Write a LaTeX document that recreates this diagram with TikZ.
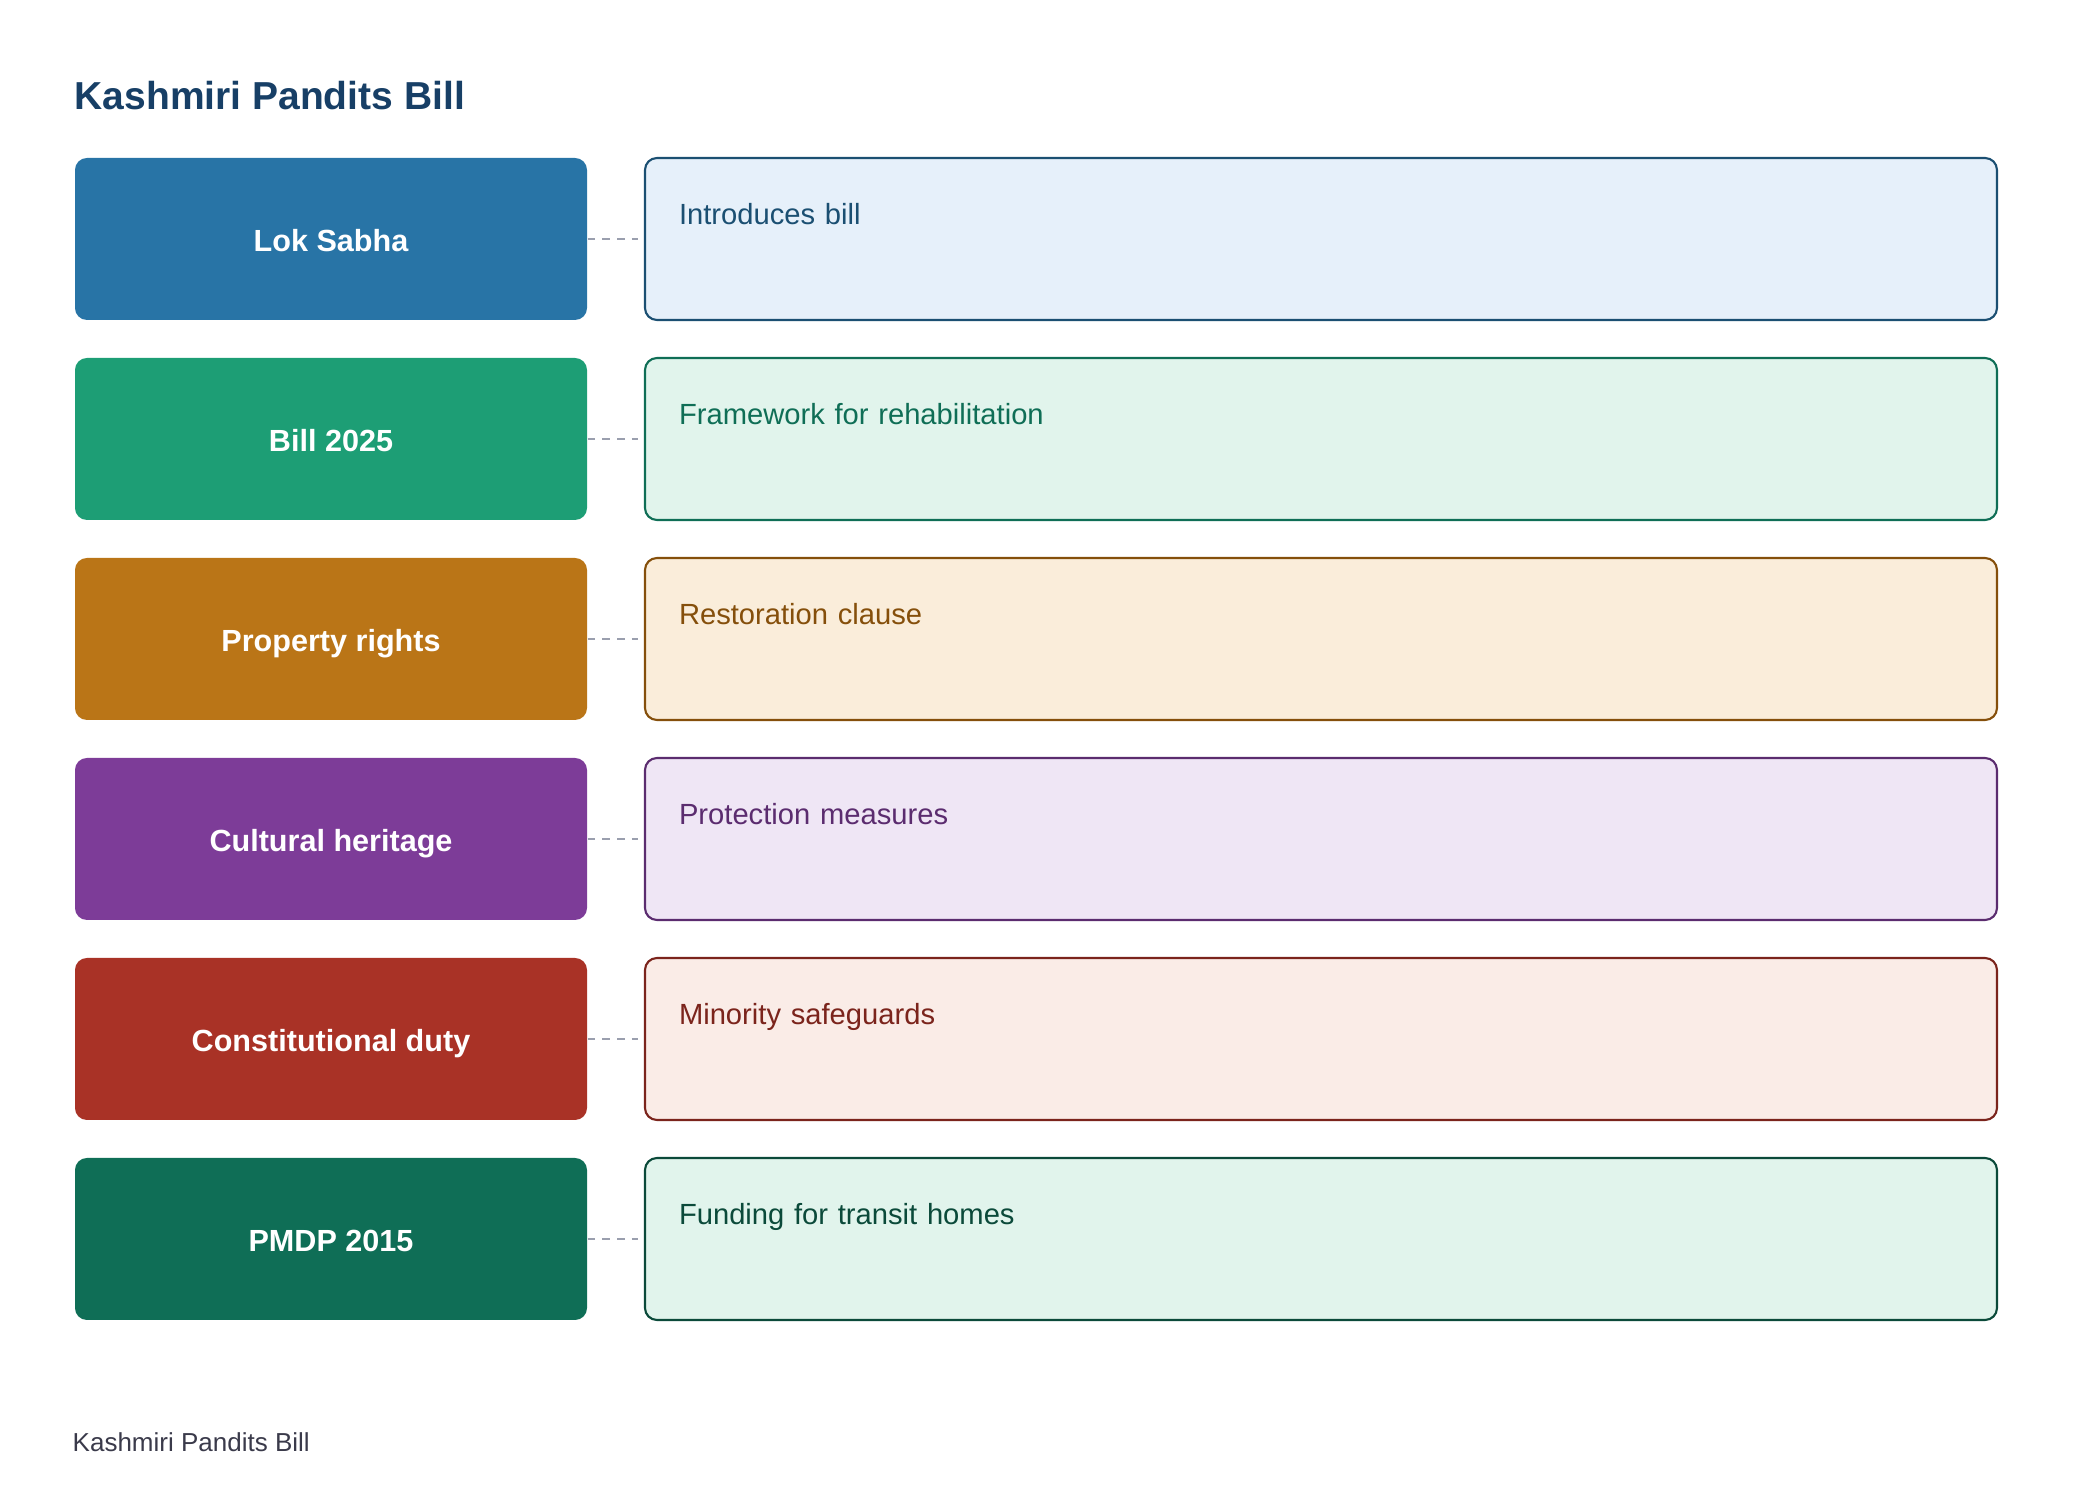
\documentclass[tikz,border=0pt]{standalone}
\usepackage{fontspec}
\setmainfont{Liberation Sans}
\usetikzlibrary{positioning}

\definecolor{titleblue}{HTML}{173F66}
\definecolor{footgray}{HTML}{3A3A4A}
\definecolor{linkgray}{HTML}{9A9FAE}
\definecolor{lokfill}{HTML}{2874A6}
\definecolor{lokpale}{HTML}{E6F0FA}
\definecolor{lokdark}{HTML}{1B4F72}
\definecolor{billfill}{HTML}{1D9E75}
\definecolor{billpale}{HTML}{E1F4EC}
\definecolor{billdark}{HTML}{0F6E56}
\definecolor{propfill}{HTML}{BA7517}
\definecolor{proppale}{HTML}{FAEDDA}
\definecolor{propdark}{HTML}{854F0B}
\definecolor{cultfill}{HTML}{7D3C98}
\definecolor{cultpale}{HTML}{EFE6F5}
\definecolor{cultdark}{HTML}{5B2C6F}
\definecolor{constfill}{HTML}{A93226}
\definecolor{constpale}{HTML}{FAECE7}
\definecolor{constdark}{HTML}{7B241C}
\definecolor{pmdpfill}{HTML}{0F6E56}
\definecolor{pmdppale}{HTML}{E1F4EC}
\definecolor{pmdpdark}{HTML}{0B4A3A}

\begin{document}
\begin{tikzpicture}[node distance=2cm, on grid]
    \tikzstyle{topic} = [rectangle, rounded corners=3.4pt, minimum width=5.12cm,
                         minimum height=1.62cm, text=white, text height=7.2pt, text depth=0pt,
                         font=\bfseries\fontsize{8.7}{10}\selectfont]
    \tikzstyle{detail} = [rectangle, rounded corners=3.4pt, line width=0.6pt,
                          minimum width=13.52cm, minimum height=1.62cm, text width=12.84cm,
                          inner xsep=0.34cm, inner ysep=0pt, text height=0.67cm, text depth=0.95cm,
                          align=left, font=\fontsize{8.3}{10}\selectfont]
    \tikzstyle{link} = [draw=linkgray, line width=0.8pt, dash pattern=on 0.075cm off 0.072cm,
                        shorten >=0.055cm]

    \useasboundingbox (0,0) rectangle (20.8,-15.08);

    \node (title) [anchor=base west, inner sep=0pt, text=titleblue,
                   font=\bfseries\fontsize{11.1}{13}\selectfont] at (0.74,-1.10) {Kashmiri Pandits Bill};

    \node (lok)   [topic, fill=lokfill] at (3.31,-2.39) {Lok Sabha};
    \node (bill)  [topic, fill=billfill, below=of lok] {Bill 2025};
    \node (prop)  [topic, fill=propfill, below=of bill] {Property rights};
    \node (cult)  [topic, fill=cultfill, below=of prop] {Cultural heritage};
    \node (const) [topic, fill=constfill, below=of cult] {Constitutional duty};
    \node (pmdp)  [topic, fill=pmdpfill, below=of const] {PMDP 2015};

    \node (lokd)   [detail, fill=lokpale, draw=lokdark, text=lokdark, right=9.9cm of lok] {Introduces bill};
    \node (billd)  [detail, fill=billpale, draw=billdark, text=billdark, right=9.9cm of bill] {Framework for rehabilitation};
    \node (propd)  [detail, fill=proppale, draw=propdark, text=propdark, right=9.9cm of prop] {Restoration clause};
    \node (cultd)  [detail, fill=cultpale, draw=cultdark, text=cultdark, right=9.9cm of cult] {Protection measures};
    \node (constd) [detail, fill=constpale, draw=constdark, text=constdark, right=9.9cm of const] {Minority safeguards};
    \node (pmdpd)  [detail, fill=pmdppale, draw=pmdpdark, text=pmdpdark, right=9.9cm of pmdp] {Funding for transit homes};

    \draw [link] (lok) -- (lokd);
    \draw [link] (bill) -- (billd);
    \draw [link] (prop) -- (propd);
    \draw [link] (cult) -- (cultd);
    \draw [link] (const) -- (constd);
    \draw [link] (pmdp) -- (pmdpd);

    \node (footer) [anchor=base west, inner sep=0pt, text=footgray,
                    font=\fontsize{7.4}{9}\selectfont] at (0.72,-14.52) {Kashmiri Pandits Bill};
\end{tikzpicture}
\end{document}
